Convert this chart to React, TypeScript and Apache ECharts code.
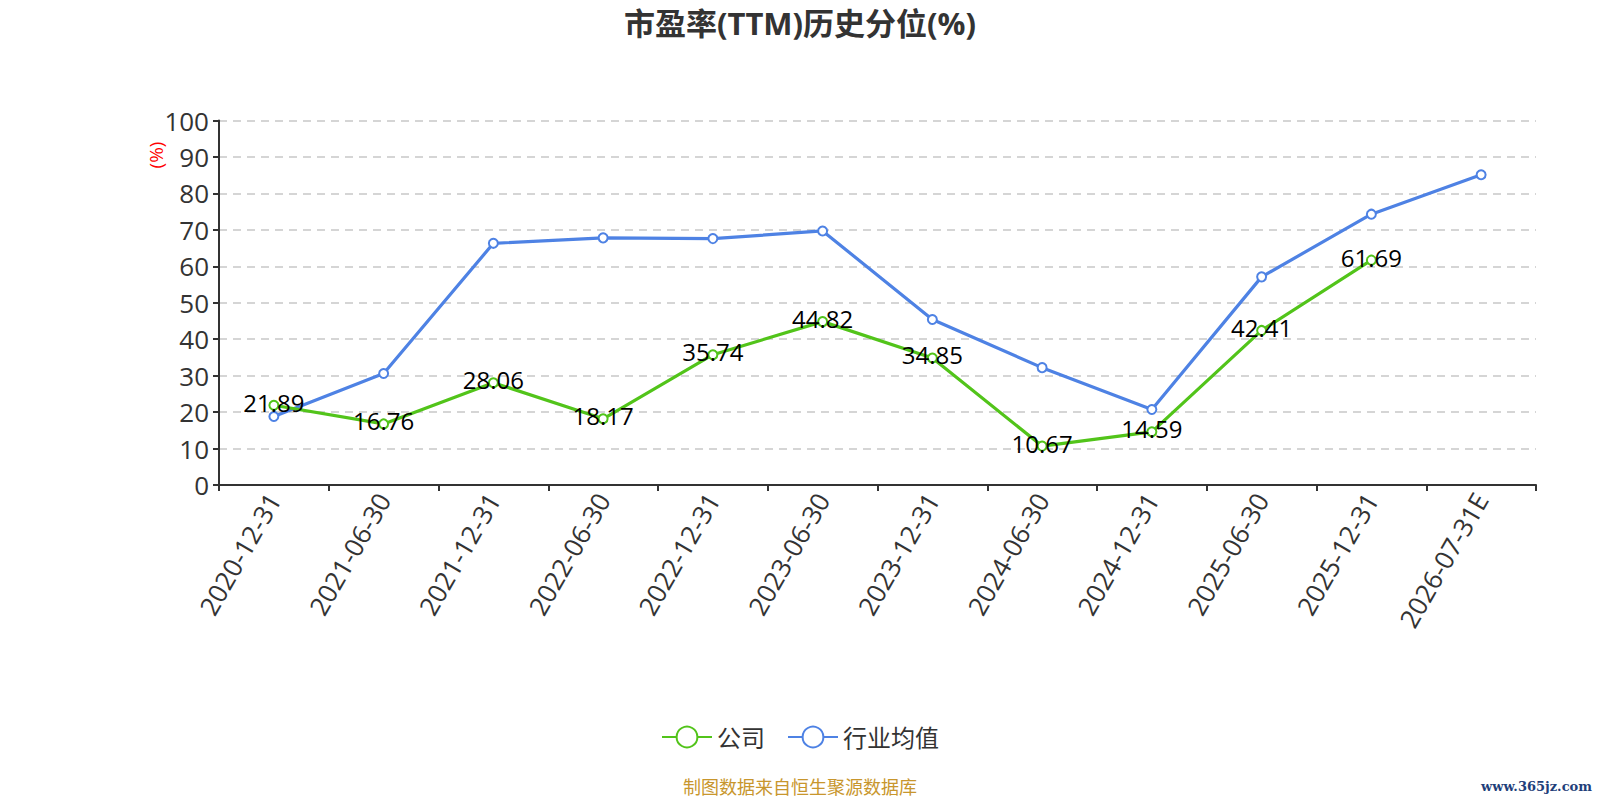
import React, { useEffect, useRef } from "react";
import * as echarts from "echarts";

const categories = [
  "2020-12-31", "2021-06-30", "2021-12-31", "2022-06-30", "2022-12-31", "2023-06-30",
  "2023-12-31", "2024-06-30", "2024-12-31", "2025-06-30", "2025-12-31", "2026-07-31E",
];
const companyValues: (number | null)[] = [21.89, 16.76, 28.06, 18.17, 35.74, 44.82, 34.85, 10.67, 14.59, 42.41, 61.69, null];
const industryValues: number[] = [18.8, 30.6, 66.3, 67.8, 67.6, 69.7, 45.4, 32.2, 20.7, 57.1, 74.3, 85.1];
const seriesNames = ["公司", "行业均值"];
const titleText = "市盈率(TTM)历史分位(%)";
const yAxisName = "(%)";
const footerText = "制图数据来自恒生聚源数据库";
const watermarkText = "www.365jz.com";

const FONT = "'Open Sans', 'Noto Sans CJK SC', sans-serif";

export default function App() {
  const ref = useRef<HTMLDivElement>(null);
  useEffect(() => {
    document.body.style.margin = "0";
    if (!ref.current) return;
    const chart = echarts.init(ref.current, null, { renderer: "svg" });
    chart.setOption({
      animation: false,
      backgroundColor: "#ffffff",
      textStyle: { fontFamily: FONT },
      title: {
        text: titleText,
        left: "center",
        top: 2,
        textStyle: { fontSize: 31, fontWeight: "bold", color: "#333333", fontFamily: FONT },
      },
      grid: { left: 219, right: 64, top: 120.5, bottom: 315 },
      legend: {
        bottom: 46,
        left: "center",
        itemWidth: 50,
        itemHeight: 26,
        itemGap: 22,
        textStyle: { fontSize: 24, color: "#333333", fontFamily: FONT },
        data: seriesNames,
      },
      xAxis: {
        type: "category",
        data: categories,
        boundaryGap: true,
        axisLine: { lineStyle: { color: "#333333", width: 2 } },
        axisTick: { show: true, length: 6, lineStyle: { color: "#333333", width: 2 } },
        axisLabel: { rotate: 60, fontSize: 26, color: "#333333", margin: 10, interval: 0 },
      },
      yAxis: {
        type: "value",
        min: 0,
        max: 100,
        interval: 10,
        axisLine: { show: true, lineStyle: { color: "#333333", width: 2 } },
        axisTick: { show: true, length: 6, lineStyle: { color: "#333333", width: 2 } },
        axisLabel: { fontSize: 26, color: "#333333", margin: 10 },
        splitLine: { lineStyle: { type: [8, 6], color: "#c8c8c8", width: 1.5 } },
      },
      graphic: [
        {
          type: "text",
          x: 156,
          y: 155,
          rotation: Math.PI / 2,
          style: {
            text: yAxisName,
            fill: "#ff0000",
            fontSize: 19,
            fontFamily: FONT,
            align: "center",
            verticalAlign: "middle",
          },
        },
        {
          type: "text",
          x: 800,
          y: 787,
          style: {
            text: footerText,
            fill: "#c8962d",
            fontSize: 18,
            fontFamily: FONT,
            align: "center",
            verticalAlign: "middle",
          },
        },
        {
          type: "text",
          x: 1592,
          y: 786,
          style: {
            text: watermarkText,
            fill: "#1f3f7a",
            fontSize: 13,
            fontWeight: "bold",
            fontFamily: "'DejaVu Serif', serif",
            align: "right",
            verticalAlign: "middle",
          },
        },
      ],
      series: [
        {
          name: seriesNames[0],
          type: "line",
          data: companyValues,
          color: "#52c41a",
          symbol: "emptyCircle",
          symbolSize: 9,
          lineStyle: { width: 3.2 },
          itemStyle: { color: "#52c41a", borderWidth: 2 },
          label: {
            show: true,
            position: "inside",
            offset: [0, -3],
            fontSize: 24,
            color: "#000000",
            fontFamily: FONT,
          },
          z: 3,
        },
        {
          name: seriesNames[1],
          type: "line",
          data: industryValues,
          color: "#4e82e4",
          symbol: "emptyCircle",
          symbolSize: 9,
          lineStyle: { width: 3.2 },
          itemStyle: { color: "#4e82e4", borderWidth: 2 },
          z: 2,
        },
      ],
    });
    return () => chart.dispose();
  }, []);
  return <div ref={ref} style={{ width: 1600, height: 800 }} />;
}
